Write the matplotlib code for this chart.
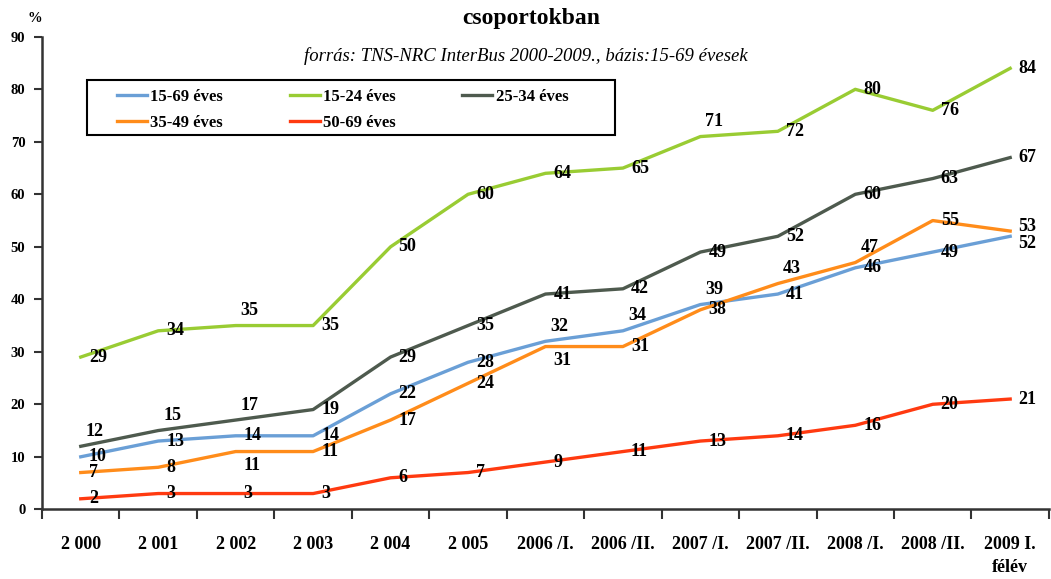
import numpy as np
import matplotlib
matplotlib.use("Agg")
import matplotlib.pyplot as plt
from matplotlib.patches import Rectangle

# categories and series values
categories = ["2 000", "2 001", "2 002", "2 003", "2 004", "2 005",
              "2006 /I.", "2006 /II.", "2007 /I.", "2007 /II.",
              "2008 /I.", "2008 /II.", "2009 I.\nfélév"]

age_15_69 = [10, 13, 14, 14, 22, 28, 32, 34, 39, 41, 46, 49, 52]
age_15_24 = [29, 34, 35, 35, 50, 60, 64, 65, 71, 72, 80, 76, 84]
age_25_34 = [12, 15, 17, 19, 29, 35, 41, 42, 49, 52, 60, 63, 67]
age_35_49 = [7, 8, 11, 11, 17, 24, 31, 31, 38, 43, 47, 55, 53]
age_50_69 = [2, 3, 3, 3, 6, 7, 9, 11, 13, 14, 16, 20, 21]

series_names = ["15-69 éves", "15-24 éves", "25-34 éves", "35-49 éves", "50-69 éves"]
yticks = [0, 10, 20, 30, 40, 50, 60, 70, 80, 90]

# styling (kept apart from the data)
colors = ["#6A9FD6", "#99CC33", "#4E5A4E", "#FF8C1A", "#FF3A10"]
# where each data label sits: r = right, a = above, b = below, ru/rd = right nudged up/down
label_pos = [
    ["r", "r", "r", "r", "r", "r", "a", "a", "a", "r", "r", "r", "rd"],
    ["r", "r", "a", "r", "r", "r", "r", "r", "a", "r", "r", "r", "r"],
    ["a", "a", "a", "r", "r", "r", "r", "r", "r", "r", "r", "r", "r"],
    ["r", "r", "b", "r", "r", "r", "b", "r", "r", "a", "a", "r", "ru"],
    ["r", "r", "r", "r", "r", "r", "r", "r", "r", "r", "r", "r", "r"],
]
offsets = {"r": (8, 0), "a": (5, 15), "b": (8, -14), "ru": (8, 5), "rd": (8, -7)}

serif = "Liberation Serif"

fig = plt.figure(figsize=(10.51, 5.79), dpi=100)
ax = fig.add_axes([0.040, 0.1204, 0.958, 0.8160])

all_series = [age_15_69, age_15_24, age_25_34, age_35_49, age_50_69]
x = np.arange(len(categories))
handles = []
for vals, name, col, pos in zip(all_series, series_names, colors, label_pos):
    h, = ax.plot(x, vals, color=col, linewidth=2.4, label=name, solid_joinstyle="round")
    handles.append(h)
    for xi, v, p in zip(x, vals, pos):
        dx, dy = offsets[p]
        ax.annotate(str(v), (xi, v), xytext=(dx, dy), textcoords="offset pixels",
                    ha="left", va="center", fontsize=13, fontweight="bold",
                    family=serif, color="black")

ax.set_xlim(-0.5, len(categories) - 0.5)
ax.set_ylim(0, 90)
ax.set_yticks(yticks)
ax.set_yticklabels([str(t) for t in yticks], fontsize=10.5, fontweight="bold", family=serif)

ax.set_xticks(x)
ax.set_xticklabels(categories, fontsize=13, fontweight="bold", family=serif, linespacing=1.5)
ax.tick_params(axis="x", which="major", length=0, pad=19)
ax.set_xticks(np.arange(-0.5, len(categories)), minor=True)
ax.tick_params(axis="x", which="minor", length=7, width=1.5, color="#333333")
ax.tick_params(axis="y", length=6, width=1.5, color="#333333", pad=6)

for s in ["top", "right"]:
    ax.spines[s].set_visible(False)
for s in ["left", "bottom"]:
    ax.spines[s].set_linewidth(1.8)
    ax.spines[s].set_color("#333333")

# title and source line
fig.text(0.505, 0.968, "csoportokban", ha="center", va="center",
         fontsize=17, fontweight="bold", family=serif)
fig.text(0.50, 0.903, "forrás: TNS-NRC InterBus 2000-2009., bázis:15-69 évesek",
         ha="center", va="center", fontsize=13.5, style="italic", family=serif)
fig.text(0.033, 0.968, "%", ha="center", va="center", fontsize=10.5,
         fontweight="bold", family=serif)

# legend box drawn by hand, entries filled row by row like the original
fig.patches.append(Rectangle((87 / 1051, 1 - 135 / 579), 528 / 1051, 55 / 579,
                             transform=fig.transFigure, fill=False,
                             edgecolor="black", linewidth=1.5))
order = [0, 3, 1, 4, 2]
leg = fig.legend([handles[i] for i in order], [series_names[i] for i in order],
                 ncol=3, loc="upper left",
                 bbox_to_anchor=(117 / 1051, 1 - 89 / 579),
                 prop={"family": serif, "weight": "bold", "size": 12},
                 frameon=False, handlelength=1.8, handletextpad=0.2,
                 columnspacing=4.0, borderpad=0, labelspacing=0.6,
                 borderaxespad=0)

fig.savefig("out.png", dpi=100)
